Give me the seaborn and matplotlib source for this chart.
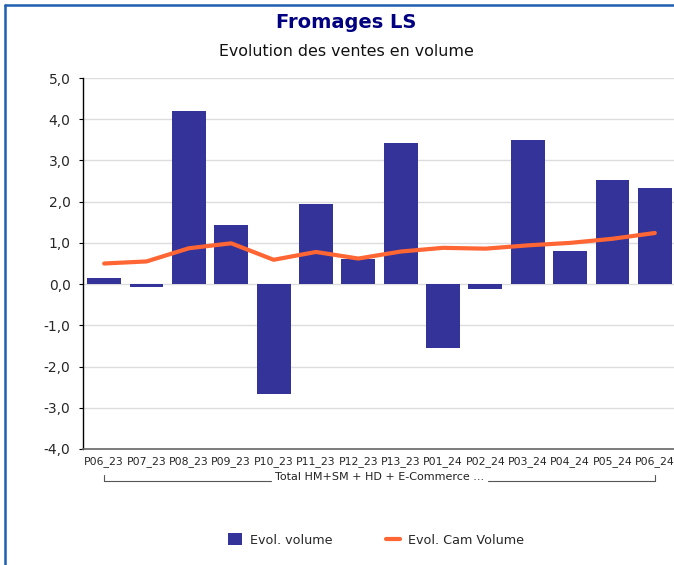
import matplotlib
matplotlib.use('Agg')
import matplotlib.pyplot as plt
import seaborn as sns
import pandas as pd
from matplotlib.lines import Line2D
from matplotlib.patches import Patch

# Data
periods = ['P06_23', 'P07_23', 'P08_23', 'P09_23', 'P10_23', 'P11_23', 'P12_23',
           'P13_23', 'P01_24', 'P02_24', 'P03_24', 'P04_24', 'P05_24', 'P06_24']
evol_volume = [0.15, -0.06, 4.20, 1.44, -2.66, 1.95, 0.61,
               3.43, -1.56, -0.13, 3.50, 0.81, 2.53, 2.34]
evol_cam_volume = [0.50, 0.55, 0.87, 0.99, 0.59, 0.78, 0.62,
                   0.79, 0.88, 0.86, 0.94, 1.00, 1.10, 1.24]
y_ticks = [-4, -3, -2, -1, 0, 1, 2, 3, 4, 5]
group_label = 'Total HM+SM + HD + E-Commerce ...'

BAR_COLOR = '#333399'
LINE_COLOR = '#FF6633'

sns.set_style('white')
plt.rcParams['font.family'] = ['DejaVu Sans']

df = pd.DataFrame({'period': periods, 'volume': evol_volume, 'cam': evol_cam_volume})

fig = plt.figure(figsize=(6.74, 5.65), dpi=100)
ax = fig.add_axes([83 / 674, 1 - 449 / 565, 593 / 674, 371 / 565])

sns.barplot(data=df, x='period', y='volume', color=BAR_COLOR, saturation=1,
            width=0.8, linewidth=0, edgecolor='none', ax=ax, zorder=2)
sns.lineplot(x=list(range(len(periods))), y=df['cam'], color=LINE_COLOR,
             linewidth=3, ax=ax, zorder=3)

ax.set_xlim(-0.5, len(periods) - 0.5)
ax.set_ylim(-4, 5)
ax.set_yticks(y_ticks)
ax.set_yticklabels([f'{v:.1f}'.replace('.', ',') for v in y_ticks], fontsize=10)
ax.set_xticks(range(len(periods)))
ax.set_xticklabels(periods, fontsize=7.8)
ax.tick_params(axis='x', length=0, pad=5)
ax.tick_params(axis='y', length=3, width=0.8, color='black', pad=6, left=True)
ax.set_xlabel('')
ax.set_ylabel('')
ax.grid(True, axis='y', color='#dddddd', linewidth=1, zorder=0)
ax.set_axisbelow(True)
for side in ['top', 'right']:
    ax.spines[side].set_visible(False)
ax.spines['left'].set_color('black')
ax.spines['left'].set_linewidth(1)
ax.spines['bottom'].set_color('#666666')
ax.spines['bottom'].set_linewidth(1.2)

# group bracket below the tick labels
trans = ax.get_xaxis_transform()
yb = -(481 - 449) / 371
yt = -(475 - 449) / 371
x0, x1 = 0, len(periods) - 1
ax.add_line(Line2D([x0, x0, 3.95], [yt, yb, yb], transform=trans, color='#555555',
                   linewidth=0.8, clip_on=False))
ax.add_line(Line2D([9.05, x1, x1], [yb, yb, yt], transform=trans, color='#555555',
                   linewidth=0.8, clip_on=False))
ax.text(6.5, yb + 0.012, group_label, transform=trans, ha='center', va='center',
        fontsize=8, color='#222222')

# titles
fig.text(346 / 674, 1 - 22 / 565, 'Fromages LS', ha='center', va='center',
         fontsize=14, fontweight='bold', color='#000080')
fig.text(346 / 674, 1 - 52 / 565, 'Evolution des ventes en volume', ha='center',
         va='center', fontsize=11.4, color='#111111')

# legend
handles = [Patch(facecolor=BAR_COLOR, edgecolor='none'),
           Line2D([0], [0], color=LINE_COLOR, linewidth=3)]
fig.legend(handles, ['Evol. volume', 'Evol. Cam Volume'], loc='center',
           bbox_to_anchor=(376 / 674, 1 - 540 / 565), ncol=2, frameon=False,
           fontsize=9.2, handlelength=1.1, handleheight=1.0, columnspacing=4.2,
           handletextpad=0.6)

# blue frame (left and top edges visible)
fig.add_artist(Line2D([5 / 674, 5 / 674], [0, 1 - 5 / 565], transform=fig.transFigure,
                      color='#1f5fb0', linewidth=1.8))
fig.add_artist(Line2D([5 / 674, 1], [1 - 5 / 565, 1 - 5 / 565], transform=fig.transFigure,
                      color='#1f5fb0', linewidth=1.8))

fig.savefig('out.png', dpi=100, facecolor='white')
